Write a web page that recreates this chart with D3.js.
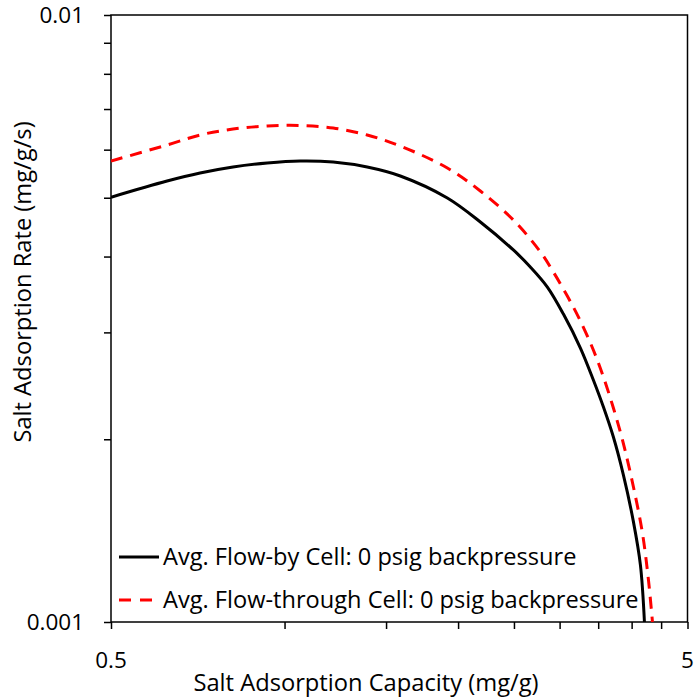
<!DOCTYPE html>
<html>
<head>
<meta charset="utf-8">
<script src="https://cdn.jsdelivr.net/npm/d3@7"></script>
<style>
  html, body { margin: 0; padding: 0; background: #fff; }
  svg { display: block; }
  text { font-family: "Open Sans", sans-serif; fill: #000; }
</style>
</head>
<body>
<svg id="chart" width="695" height="700"></svg>
<script>
// Flow-by cell (black, solid)
const flowByX = [0.5, 0.6255, 0.7136, 0.814, 0.933, 1.0645, 1.2145, 1.391, 1.588, 1.916, 2.186, 2.494, 2.669, 2.857, 3.046, 3.26, 3.433, 3.574, 3.719, 3.871, 4.029, 4.143, 4.21];
const flowByY = [0.00501, 0.005327, 0.005491, 0.005618, 0.005704, 0.005748, 0.005726, 0.005618, 0.00543, 0.004995, 0.00456, 0.004101, 0.003845, 0.003563, 0.003216, 0.002827, 0.002504, 0.00226, 0.002017, 0.001746, 0.001462, 0.001241, 0.001];
// Flow-through cell (red, dashed)
const flowThroughX = [0.5, 0.6255, 0.7136, 0.814, 0.933, 1.0645, 1.2145, 1.391, 1.588, 1.916, 2.186, 2.494, 2.779, 2.926, 3.094, 3.26, 3.433, 3.574, 3.719, 3.856, 4.029, 4.176, 4.278, 4.347];
const flowThroughY = [0.005748, 0.006107, 0.006343, 0.006489, 0.006565, 0.006577, 0.006514, 0.006343, 0.006083, 0.005597, 0.005129, 0.004595, 0.00407, 0.003772, 0.003444, 0.003132, 0.002806, 0.002533, 0.002252, 0.001995, 0.001669, 0.001402, 0.001173, 0.001];

const seriesNames = ["Avg. Flow-by Cell: 0 psig backpressure", "Avg. Flow-through Cell: 0 psig backpressure"];
const xDomain = [0.5, 5];
const yDomain = [0.001, 0.01];
const xTickLabels = [0.5, 5];
const yTickLabels = [0.001, 0.01];
const xMinorTicks = [0.5, 1, 1.5, 2, 2.5, 3, 3.5, 4, 4.5, 5];
const yMinorTicks = [0.001, 0.002, 0.003, 0.004, 0.005, 0.006, 0.007, 0.008, 0.009, 0.01];
const xTitle = "Salt Adsorption Capacity (mg/g)";
const yTitle = "Salt Adsorption Rate (mg/g/s)";

const L = 111, R = 687.5, T = 15, B = 622;
const svg = d3.select("#chart");

const x = d3.scaleLog().domain(xDomain).range([L, R]);
const y = d3.scaleLog().domain(yDomain).range([B, T]);

svg.append("defs").append("clipPath").attr("id", "clip")
  .append("rect").attr("x", L).attr("y", T).attr("width", R - L).attr("height", B - T);

// axes (ticks only)
const xAxis = d3.axisBottom(x).tickValues(xMinorTicks).tickSize(7).tickFormat("");
const yAxis = d3.axisLeft(y).tickValues(yMinorTicks).tickSize(7).tickFormat("");
const gx = svg.append("g").attr("transform", `translate(0,${B})`).call(xAxis);
const gy = svg.append("g").attr("transform", `translate(${L},0)`).call(yAxis);
[gx, gy].forEach(g => {
  g.select(".domain").remove();
  g.selectAll("line").attr("stroke", "#000").attr("stroke-width", 1.5);
});

// frame
svg.append("rect").attr("x", L).attr("y", T).attr("width", R - L).attr("height", B - T)
  .attr("fill", "none").attr("stroke", "#000").attr("stroke-width", 1.5);

// tick labels
svg.append("g").selectAll("text").data(xTickLabels).join("text")
  .attr("x", d => x(d)).attr("y", 660).attr("dy", "0.35em")
  .attr("text-anchor", "middle").style("font-size", "22.5px").text(d => d);
svg.append("g").selectAll("text").data(yTickLabels).join("text")
  .attr("x", 84).attr("y", d => y(d)).attr("dy", "0.35em")
  .attr("text-anchor", "end").style("font-size", "22.5px").text(d => d);

// titles
svg.append("text").attr("x", 366).attr("y", 683).attr("dy", "0.35em")
  .attr("text-anchor", "middle").style("font-size", "23.7px").text(xTitle);
svg.append("text").attr("transform", `translate(23,282) rotate(-90)`).attr("dy", "0.35em")
  .attr("text-anchor", "middle").style("font-size", "23.7px").text(yTitle);

// lines
const line = d3.line().x(d => x(d[0])).y(d => y(d[1])).curve(d3.curveCatmullRom.alpha(0.5));
const plot = svg.append("g").attr("clip-path", "url(#clip)");
plot.append("path").datum(d3.zip(flowByX, flowByY))
  .attr("d", line).attr("fill", "none").attr("stroke", "#000").attr("stroke-width", 3);
plot.append("path").datum(d3.zip(flowThroughX, flowThroughY))
  .attr("d", line).attr("fill", "none").attr("stroke", "#ff0000").attr("stroke-width", 3)
  .attr("stroke-dasharray", "12,8");

// legend
const legend = svg.append("g");
const rows = [{y: 557, color: "#000", dash: null}, {y: 600, color: "#ff0000", dash: "12,9"}];
rows.forEach((r, i) => {
  legend.append("line").attr("x1", 119).attr("x2", 159).attr("y1", r.y).attr("y2", r.y)
    .attr("stroke", r.color).attr("stroke-width", 3).attr("stroke-dasharray", r.dash);
  legend.append("text").attr("x", 163).attr("y", r.y).attr("dy", "0.35em")
    .style("font-size", "23.6px").text(seriesNames[i]);
});
</script>
</body>
</html>
